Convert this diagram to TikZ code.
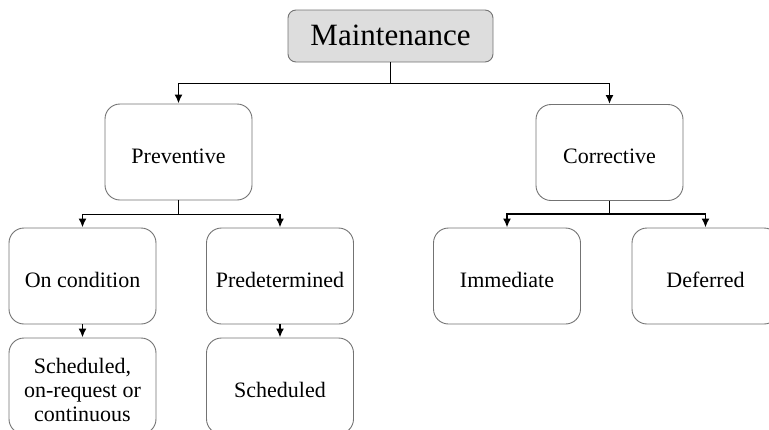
\documentclass[tikz,border=0pt]{standalone}
\usepackage{fontspec}
\setmainfont{Liberation Serif}
\usetikzlibrary{arrows.meta}
\tikzset{
  kind/.style = {draw=gray!90!black, line width=0.9pt, rounded corners=15pt, fill=white,
    minimum width=147pt, minimum height=96pt, inner sep=0pt, align=center,
    text height=22pt, text depth=0pt, font=\fontsize{22}{24}\selectfont},
  root/.style = {kind, fill=gray!27, rounded corners=8pt, minimum width=205pt,
    minimum height=52pt, text height=18pt, font=\fontsize{31}{34}\selectfont},
  link/.style = {line width=1.8pt, black},
  >={Latex[length=9pt,width=8pt]}
}

\begin{document}
\begin{tikzpicture}[x=1pt, y=-1pt]
\path[use as bounding box] (0,0) rectangle (769,429);
\clip (0,0) rectangle (769,429);
% nodes
\node[root] (maint) at (390.5,36) {Maintenance};
\node[kind] (prev) at (178.5,152) {Preventive};
\node[kind] (corr) at (609.5,152.5) {Corrective};
\node[kind] (cond) at (82.5,276) {On condition};
\node[kind] (pred) at (280,276) {Predetermined};
\node[kind] (imm) at (507,276) {Immediate};
\node[kind] (defr) at (705.5,276) {Deferred};
\node[kind, text height=70pt] (sch1) at (82.5,386) {Scheduled,\\on-request or\\continuous};
\node[kind] (sch2) at (280,386) {Scheduled};
% connectors
\draw[link] (maint.south) -- ++(0,21) coordinate (j1);
\draw[link,->] (j1) -| (prev.north);
\draw[link,->] (j1) -| (corr.north);
\draw[link] (prev.south) -- ++(0,14) coordinate (j2);
\draw[link,->] (j2) -| (cond.north);
\draw[link,->] (j2) -| (pred.north);
\draw[link] (corr.south) -- ++(0,13) coordinate (j3);
\draw[link,->] (j3) -| (imm.north);
\draw[link,->] (j3) -| (defr.north);
\draw[link,->] (cond) -- (sch1);
\draw[link,->] (pred) -- (sch2);
\end{tikzpicture}
\end{document}
